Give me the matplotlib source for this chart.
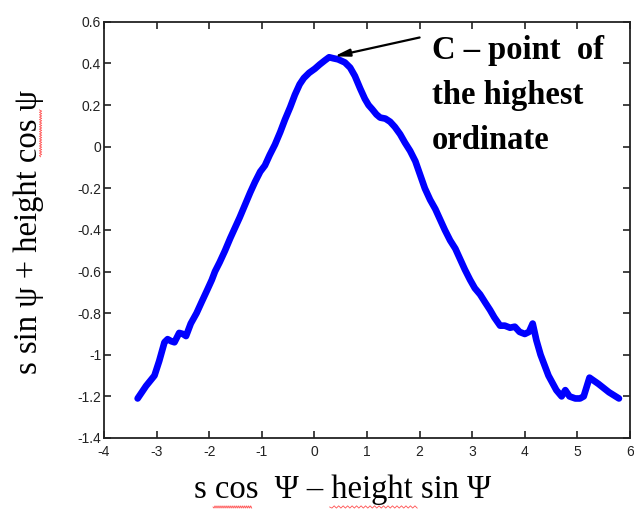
import numpy as np
import matplotlib.pyplot as plt
from matplotlib.lines import Line2D

# trajectory of the projected point
xs = [-3.36, -3.20, -3.04, -2.95, -2.85, -2.79, -2.72, -2.66, -2.60, -2.57, -2.50, -2.44,
      -2.35, -2.24, -2.15, -2.04, -1.95, -1.89, -1.80, -1.70, -1.60, -1.51, -1.42, -1.32,
      -1.22, -1.13, -1.03, -0.94, -0.85, -0.75, -0.65, -0.56, -0.46, -0.37, -0.28, -0.20,
      -0.10, 0.01, 0.10, 0.20, 0.28, 0.36, 0.45, 0.58, 0.68, 0.77, 0.87, 0.96, 1.03,
      1.10, 1.18, 1.25, 1.35, 1.44, 1.53, 1.63, 1.72, 1.82, 1.92, 2.01, 2.10, 2.20,
      2.30, 2.39, 2.48, 2.58, 2.68, 2.77, 2.86, 2.96, 3.05, 3.15, 3.25, 3.34, 3.42,
      3.53, 3.62, 3.72, 3.81, 3.90, 4.00, 4.08, 4.15, 4.22, 4.30, 4.45, 4.60, 4.70,
      4.77, 4.85, 4.96, 5.05, 5.12, 5.23, 5.40, 5.60, 5.79]
ys = [-1.21, -1.15, -1.10, -1.03, -0.94, -0.925, -0.935, -0.94, -0.91, -0.895, -0.90, -0.91,
      -0.85, -0.80, -0.75, -0.69, -0.64, -0.60, -0.555, -0.50, -0.44, -0.39, -0.34, -0.28,
      -0.22, -0.17, -0.12, -0.09, -0.04, 0.01, 0.07, 0.13, 0.19, 0.25, 0.30, 0.33,
      0.355, 0.375, 0.395, 0.415, 0.43, 0.425, 0.42, 0.405, 0.38, 0.34, 0.28, 0.23, 0.20,
      0.18, 0.155, 0.14, 0.135, 0.12, 0.095, 0.06, 0.02, -0.02, -0.07, -0.135, -0.20, -0.255,
      -0.30, -0.35, -0.40, -0.45, -0.49, -0.54, -0.59, -0.64, -0.68, -0.71, -0.75, -0.785, -0.82,
      -0.86, -0.86, -0.87, -0.865, -0.89, -0.90, -0.89, -0.85, -0.93, -1.00, -1.10, -1.17, -1.20,
      -1.17, -1.20, -1.21, -1.21, -1.20, -1.11, -1.14, -1.18, -1.21]

xticks = [-4, -3, -2, -1, 0, 1, 2, 3, 4, 5, 6]
yticks = [-1.4, -1.2, -1, -0.8, -0.6, -0.4, -0.2, 0, 0.2, 0.4, 0.6]
xtick_labels = ["-4", "-3", "-2", "-1", "0", "1", "2", "3", "4", "5", "6"]
ytick_labels = ["-1.4", "-1.2", "-1", "-0.8", "-0.6", "-0.4", "-0.2", "0", "0.2", "0.4", "0.6"]

peak = (0.30, 0.43)

fig = plt.figure(figsize=(6.34, 5.09), dpi=100)
ax = fig.add_axes([0.164, 0.1395, 0.8297, 0.8175])

ax.plot(xs, ys, color="#0000ff", lw=4.8, solid_capstyle="round", solid_joinstyle="round")

ax.set_xlim(-4, 6)
ax.set_ylim(-1.4, 0.6)
ax.set_xticks(xticks)
ax.set_xticklabels(xtick_labels)
ax.set_yticks(yticks)
ax.set_yticklabels(ytick_labels)
ax.tick_params(direction="in", length=5, width=1.2, top=True, right=True,
               labelsize=10, colors="#222222")
ax.tick_params(axis="x", pad=5)
ax.tick_params(axis="y", pad=2)
for lbl in ax.get_xticklabels() + ax.get_yticklabels():
    lbl.set_family("Liberation Sans")
for sp in ax.spines.values():
    sp.set_linewidth(1.3)
    sp.set_color("#222222")

ax.annotate("", xy=peak, xytext=(2.0, 0.525),
            arrowprops=dict(arrowstyle="-|>,head_length=0.9,head_width=0.22",
                            color="black", lw=1.6, shrinkA=0, shrinkB=3))
ax.text(2.24, 0.535, "C – point  of\nthe highest\nordinate", ha="left", va="top",
        family="Liberation Serif", fontweight="bold", fontsize=23.5, linespacing=1.58)

fig.text(0.541, 0.037, "s cos  Ψ – height sin Ψ", ha="center", va="center",
         family="Liberation Serif", fontsize=23.5)
fig.text(0.046, 0.545, "s sin ψ + height cos ψ", ha="center", va="center",
         rotation=90, family="Liberation Serif", fontsize=23.5)


# spell-check squiggles under a few words
def squiggle(a0, a1, pos, vertical=False):
    t = np.linspace(0, 1, 40)
    wave = 0.0022 * np.sign(np.sin(t * 40 * np.pi))
    run = a0 + (a1 - a0) * t
    if vertical:
        line = Line2D(pos + wave * 0.8, run, color="#ff5050", lw=0.6,
                      transform=fig.transFigure)
    else:
        line = Line2D(run, pos + wave, color="#ff5050", lw=0.6,
                      transform=fig.transFigure)
    fig.add_artist(line)


squiggle(0.336, 0.397, 0.004)
squiggle(0.520, 0.658, 0.004)
squiggle(0.692, 0.784, 0.064, vertical=True)

fig.savefig("out.png", dpi=100)
